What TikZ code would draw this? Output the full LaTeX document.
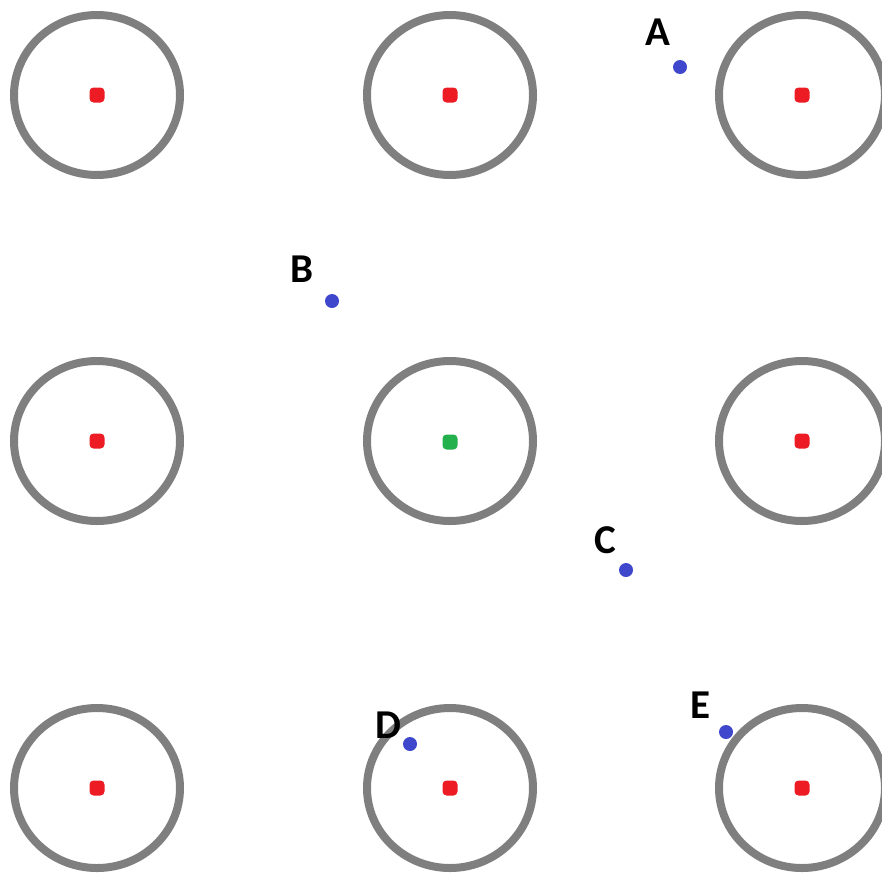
\documentclass[tikz,border=0pt]{standalone}
\usepackage{fontspec}
\setmainfont{Carlito}
\definecolor{ringgray}{HTML}{7F7F7F}
\definecolor{dotred}{HTML}{ED1C24}
\definecolor{dotgreen}{HTML}{22B14C}
\definecolor{dotblue}{HTML}{3F48CC}
\begin{document}
\begin{tikzpicture}[x=1pt,y=-1pt,
  ring/.style={draw=ringgray,line width=8pt},
  dotbase/.style={rounded corners=4pt,inner sep=0pt,minimum width=15pt,minimum height=15pt},
  reddot/.style={dotbase,fill=dotred},
  greendot/.style={dotbase,fill=dotgreen},
  bluedot/.style={circle,inner sep=0pt,minimum size=14pt,fill=dotblue},
  lbl/.style={anchor=base,inner sep=0pt,font=\fontsize{41}{48}\selectfont\bfseries}]
\useasboundingbox (0,0) rectangle (882,873);
\begin{scope}
\clip (0,0) rectangle (882,873);
\foreach \x in {97,450,802}{
  \foreach \y in {95,441,788}{
    \draw[ring] (\x,\y) ellipse [x radius=83, y radius=80];
  }
}
\end{scope}
\node[reddot] (r11) at (97,95) {};
\node[reddot] (r12) at (450,95) {};
\node[reddot] (r13) at (802,95) {};
\node[reddot] (r21) at (97,441) {};
\node[greendot] (g22) at (450,442) {};
\node[reddot] (r23) at (802,441) {};
\node[reddot] (r31) at (97,788) {};
\node[reddot] (r32) at (450,788) {};
\node[reddot] (r33) at (802,788) {};
\node[bluedot] (pA) at (680,67) {};
\node[bluedot] (pB) at (332,301) {};
\node[bluedot] (pC) at (626,570) {};
\node[bluedot] (pD) at (410,744) {};
\node[bluedot] (pE) at (726,732) {};
\node[lbl] (lA) at (658,45) {A};
\node[lbl] (lB) at (302,282) {B};
\node[lbl] (lC) at (605,553) {C};
\node[lbl] (lD) at (388,738) {D};
\node[lbl] (lE) at (700,718) {E};
\end{tikzpicture}
\end{document}
